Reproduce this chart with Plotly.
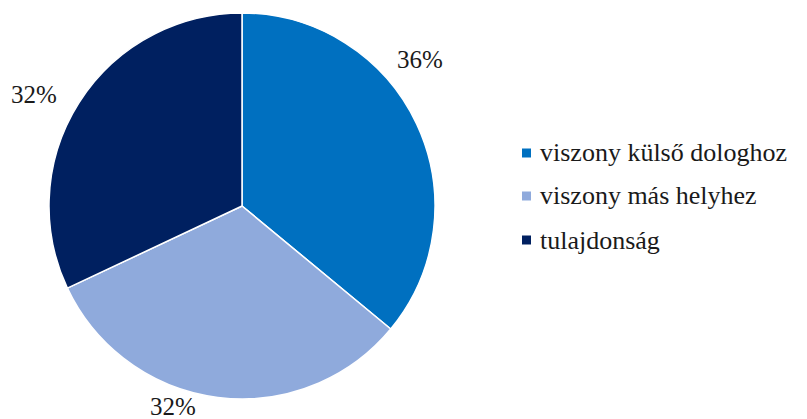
import plotly.graph_objects as go

# Share of each relation type (percent)
categories = ["viszony külső dologhoz", "viszony más helyhez", "tulajdonság"]
shares = [36, 32, 32]
colors = ["#0070C0", "#8FAADC", "#002060"]

W, H = 807, 419
FONT = "Times New Roman"

# Pie placement in pixels
cx, cy, r = 242, 206, 193

fig = go.Figure(
    go.Pie(
        labels=categories,
        values=shares,
        sort=False,
        direction="clockwise",
        rotation=0,
        marker=dict(colors=colors, line=dict(color="white", width=1.5)),
        textinfo="none",
        hoverinfo="label+percent",
        showlegend=False,
        domain=dict(
            x=[(cx - r) / W, (cx + r) / W],
            y=[1 - (cy + r) / H, 1 - (cy - r) / H],
        ),
    )
)

def px(x, y):
    return x / W, 1 - y / H

# Percentage labels outside the slices
label_pos = [(420, 60), (173, 406), (34, 94)]
annotations = []
for v, (lx, ly) in zip(shares, label_pos):
    x, y = px(lx, ly)
    annotations.append(dict(
        x=x, y=y, xref="paper", yref="paper", text=f"{v}%",
        showarrow=False, xanchor="center", yanchor="middle",
        font=dict(family=FONT, size=25, color="#1a1a1a"),
    ))

# Legend drawn as swatches plus text
shapes = []
legend_y = [153, 196, 240]
for name, col, ly in zip(categories, colors, legend_y):
    x0, y0 = px(522, ly + 4.5)
    x1, y1 = px(531, ly - 4.5)
    shapes.append(dict(type="rect", xref="paper", yref="paper",
                       x0=x0, y0=y0, x1=x1, y1=y1,
                       fillcolor=col, line=dict(width=0)))
    tx, ty = px(538, ly)
    annotations.append(dict(
        x=tx, y=ty, xref="paper", yref="paper", text=name,
        showarrow=False, xanchor="left", yanchor="middle",
        font=dict(family=FONT, size=26, color="#1a1a1a"),
    ))

fig.update_layout(
    width=W, height=H,
    margin=dict(l=0, r=0, t=0, b=0),
    font=dict(family=FONT, color="#1a1a1a"),
    paper_bgcolor="white", plot_bgcolor="white",
    annotations=annotations, shapes=shapes,
)

fig.write_html("out.html")
